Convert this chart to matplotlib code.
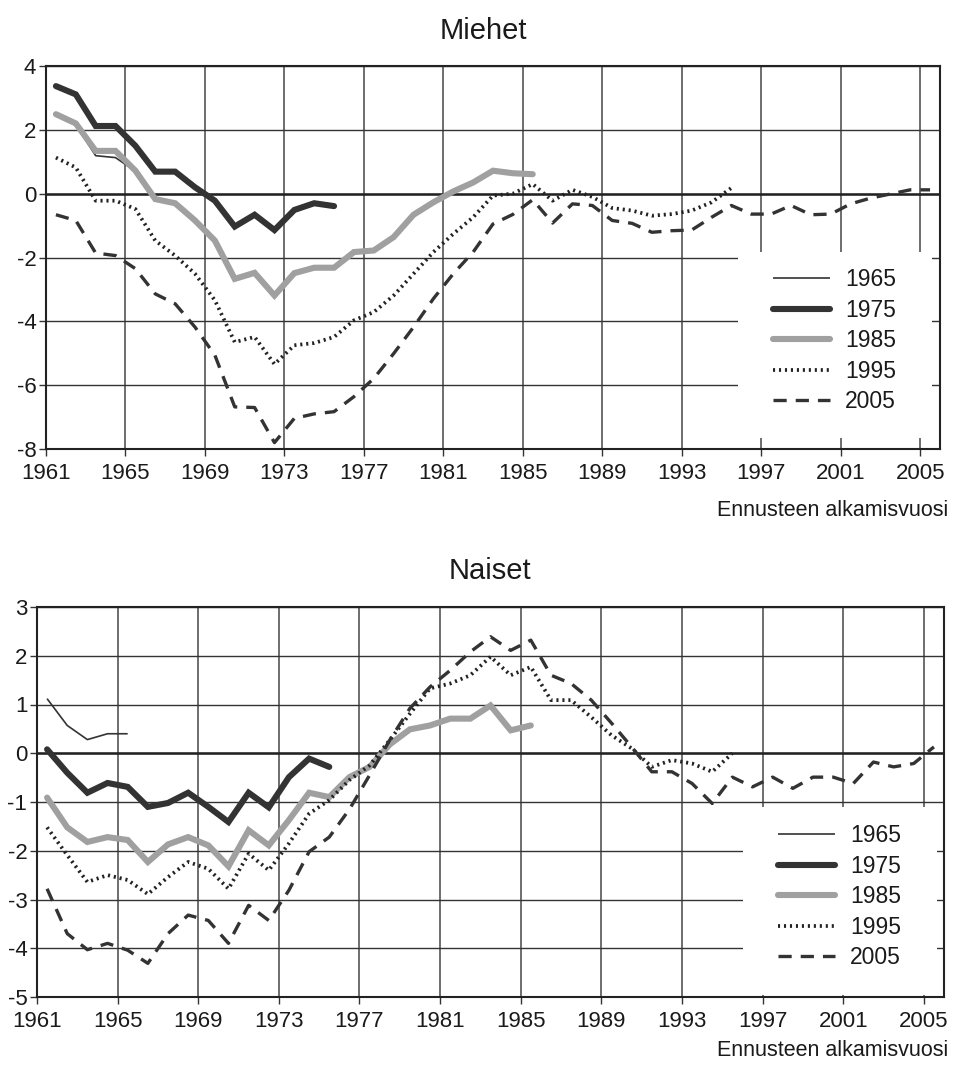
import numpy as np
import matplotlib
matplotlib.use("Agg")
import matplotlib.pyplot as plt
from matplotlib.ticker import MultipleLocator, FixedLocator
from matplotlib.patches import Rectangle

plt.rcParams['font.family'] = ['Liberation Sans', 'DejaVu Sans']
plt.rcParams['axes.unicode_minus'] = False
plt.rcParams['lines.scale_dashes'] = False

first_year = 1961
last_year = 2005
target_years = ["1965", "1975", "1985", "1995", "2005"]

# Miehet: ennustevirhe (v) ennusteen alkamisvuoden mukaan
men_1965 = [2.45, 2.15, 1.19, 1.13, 0.70]
men_1975 = [3.37, 3.11, 2.12, 2.12, 1.50, 0.69, 0.69, 0.20, -0.22, -1.03,
            -0.66, -1.14, -0.51, -0.30, -0.39]
men_1985 = [2.49, 2.20, 1.34, 1.34, 0.72, -0.17, -0.30, -0.84, -1.47, -2.67,
            -2.48, -3.19, -2.49, -2.32, -2.32, -1.83, -1.78, -1.36, -0.66, -0.27,
            0.07, 0.35, 0.72, 0.64, 0.61]
men_1995 = [1.13, 0.82, -0.22, -0.22, -0.48, -1.47, -1.94, -2.51, -3.34, -4.65,
            -4.49, -5.34, -4.75, -4.68, -4.49, -3.97, -3.71, -3.19, -2.51, -1.83,
            -1.26, -0.74, -0.06, 0.00, 0.30, -0.22, 0.12, -0.10, -0.45, -0.53,
            -0.69, -0.64, -0.53, -0.27, 0.18]
men_2005 = [-0.66, -0.84, -1.86, -1.94, -2.35, -3.14, -3.45, -4.18, -5.06, -6.68,
            -6.70, -7.80, -7.04, -6.90, -6.83, -6.36, -5.79, -5.01, -4.18, -3.29,
            -2.51, -1.83, -0.95, -0.65, -0.19, -0.92, -0.32, -0.37, -0.84, -0.93,
            -1.21, -1.16, -1.14, -0.74, -0.37, -0.64, -0.64, -0.37, -0.66, -0.64,
            -0.32, -0.14, -0.01, 0.12, 0.12]

# Naiset
women_1965 = [1.12, 0.57, 0.28, 0.40, 0.40]
women_1975 = [0.08, -0.40, -0.81, -0.61, -0.69, -1.10, -1.02, -0.81, -1.10, -1.41,
              -0.81, -1.11, -0.49, -0.11, -0.28]
women_1985 = [-0.91, -1.52, -1.82, -1.72, -1.78, -2.23, -1.87, -1.72, -1.89, -2.32,
              -1.58, -1.89, -1.37, -0.81, -0.90, -0.49, -0.28, 0.18, 0.49, 0.57,
              0.71, 0.71, 0.98, 0.47, 0.57]
women_1995 = [-1.52, -2.09, -2.64, -2.50, -2.60, -2.89, -2.54, -2.23, -2.37, -2.78,
              -2.06, -2.40, -1.85, -1.24, -0.96, -0.55, -0.25, 0.27, 0.81, 1.33,
              1.43, 1.60, 1.98, 1.60, 1.77, 1.09, 1.09, 0.74, 0.37, 0.10,
              -0.28, -0.14, -0.21, -0.38, 0.00]
women_2005 = [-2.78, -3.70, -4.03, -3.90, -4.04, -4.31, -3.70, -3.32, -3.43, -3.90,
              -3.12, -3.43, -2.81, -2.02, -1.72, -1.15, -0.45, 0.27, 0.92, 1.36,
              1.70, 2.08, 2.39, 2.11, 2.32, 1.60, 1.43, 1.09, 0.62, 0.13,
              -0.38, -0.38, -0.62, -1.03, -0.49, -0.69, -0.49, -0.72, -0.49, -0.49,
              -0.62, -0.18, -0.28, -0.21, 0.13]

dark = '#333333'
grey = '#a0a0a0'
txt = '#1a1a1a'
styles = [
    dict(color=dark, lw=1.2, solid_capstyle='butt'),
    dict(color=dark, lw=4.4, solid_capstyle='round', solid_joinstyle='miter'),
    dict(color=grey, lw=4.4, solid_capstyle='round', solid_joinstyle='miter'),
    dict(color='#222222', lw=2.7, dashes=(1.5, 2.8), dash_capstyle='butt'),
    dict(color=dark, lw=2.4, dashes=(9.5, 6.5), dash_capstyle='butt'),
]

fig = plt.figure(figsize=(9.56, 10.68), dpi=100)
ax_m = fig.add_axes([46/956, 1 - 449/1068, 894/956, 383/1068])
ax_n = fig.add_axes([37/956, 1 - 997/1068, 907/956, 390/1068])


def draw_panel(ax, series, ylim, ystep, legend_box, legend_anchor):
    for vals, label, st in zip(series, target_years, styles):
        # each forecast year sits in the middle of its category
        x = np.arange(first_year, first_year + len(vals)) + 0.5
        ax.plot(x, vals, label=label, zorder=3, **st)

    ax.set_xlim(first_year, last_year + 1)
    ax.set_ylim(*ylim)
    ax.xaxis.set_major_locator(FixedLocator(np.arange(first_year, last_year + 1, 4)))
    ax.yaxis.set_major_locator(MultipleLocator(ystep))
    ax.set_axisbelow(True)
    ax.grid(axis='y', color=dark, lw=1.0)
    ax.grid(axis='x', color='#555555', lw=1.2)
    ax.axhline(0, color='#222222', lw=1.8, zorder=2)
    for side in ['left', 'bottom', 'top', 'right']:
        ax.spines[side].set_color('#222222')
        ax.spines[side].set_linewidth(1.5)
    ax.tick_params(axis='both', direction='out', length=5, width=1.0,
                   color=dark, labelsize=16, labelcolor=txt)
    ax.tick_params(axis='x', pad=5)
    ax.tick_params(axis='y', pad=2)

    # white panel under the legend hides the grid there
    x0, y0, w, h = legend_box
    ax.add_patch(Rectangle((x0, y0), w, h, transform=ax.transAxes,
                           facecolor='white', edgecolor='none', zorder=1.5))
    leg = ax.legend(loc='upper left', bbox_to_anchor=legend_anchor,
                    frameon=False, fontsize=16.5, handlelength=2.49,
                    handletextpad=0.65, labelspacing=0.33, borderpad=0,
                    borderaxespad=0)
    for t in leg.get_texts():
        t.set_color(txt)


draw_panel(ax_m, [men_1965, men_1975, men_1985, men_1995, men_2005],
           (-8, 4), 2,
           ((738 - 46) / 894, (449 - 438) / 383, 194 / 894, 186 / 383),
           ((773 - 46) / 894, (449 - 268) / 383))
draw_panel(ax_n, [women_1965, women_1975, women_1985, women_1995, women_2005],
           (-5, 3), 1,
           ((743 - 37) / 907, (997 - 995) / 390, 194 / 907, 188 / 390),
           ((778 - 37) / 907, (997 - 824) / 390))

fig.text(483 / 956, 1 - 31 / 1068, 'Miehet', ha='center', va='center',
         fontsize=21, color=txt)
fig.text(490 / 956, 1 - 571 / 1068, 'Naiset', ha='center', va='center',
         fontsize=21, color=txt)
fig.text(948 / 956, 1 - 511 / 1068, 'Ennusteen alkamisvuosi', ha='right',
         va='center', fontsize=15.5, color=txt)
fig.text(948 / 956, 1 - 1050 / 1068, 'Ennusteen alkamisvuosi', ha='right',
         va='center', fontsize=15.5, color=txt)

fig.savefig('out.png', dpi=100, facecolor='white')
